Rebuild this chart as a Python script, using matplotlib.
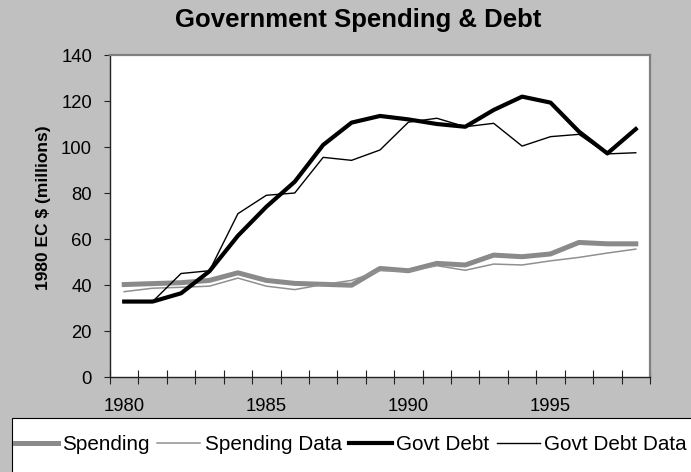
import matplotlib
matplotlib.use("Agg")
import matplotlib.pyplot as plt
from matplotlib.patches import Rectangle
from matplotlib.ticker import FixedLocator, NullFormatter
import numpy as np

plt.rcParams['font.family'] = ['Liberation Sans', 'DejaVu Sans']

years = list(range(1980, 1999))
spending = [40.2, 40.6, 41.0, 42.0, 45.3, 42.0, 40.7, 40.3, 39.9, 47.2, 46.2, 49.4,
            48.7, 53.0, 52.3, 53.5, 58.5, 57.9, 57.9]
spending_data = [37.1, 38.6, 39.0, 39.5, 43.0, 39.5, 38.0, 40.2, 42.0, 46.3, 46.0, 48.4,
                 46.4, 49.1, 48.7, 50.5, 52.0, 53.9, 55.6]
govt_debt = [32.8, 32.8, 36.4, 46.0, 61.4, 74.0, 84.9, 100.9, 110.6, 113.5, 112.0, 110.0,
             108.8, 116.1, 121.9, 119.3, 106.7, 97.2, 107.8]
govt_debt_data = [32.8, 32.8, 45.0, 46.2, 71.0, 79.0, 80.0, 95.5, 94.2, 98.7, 110.8, 112.5,
                  108.8, 110.3, 100.4, 104.5, 105.5, 97.0, 97.5]
label_years = [1980, 1985, 1990, 1995]
y_ticks = [0, 20, 40, 60, 80, 100, 120, 140]

W, H = 691, 472
fig = plt.figure(figsize=(W / 100, H / 100), dpi=100, facecolor='#c0c0c0')
ax = fig.add_axes([110 / W, 1 - 377 / H, 540 / W, 322 / H])
ax.set_facecolor('white')

x = np.arange(len(years))
l1, = ax.plot(x, spending, color='#8a8a8a', lw=3.6, solid_joinstyle='round', label='Spending')
l2, = ax.plot(x, spending_data, color='#909090', lw=1.1, label='Spending Data')
l3, = ax.plot(x, govt_debt, color='black', lw=3.0, solid_joinstyle='round', label='Govt Debt')
l4, = ax.plot(x, govt_debt_data, color='black', lw=1.0, label='Govt Debt Data')

ax.set_xlim(-0.5, len(years) - 0.5)
ax.set_ylim(0, 140)
ax.set_yticks(y_ticks)
ax.set_xticks([years.index(y) for y in label_years])
ax.set_xticklabels([str(y) for y in label_years])
ax.xaxis.set_minor_locator(FixedLocator(np.arange(-0.5, len(years), 1.0)))
ax.xaxis.set_minor_formatter(NullFormatter())
ax.tick_params(axis='x', which='major', length=0, pad=15, labelsize=13.3)
ax.tick_params(axis='x', which='minor', direction='inout', length=9.5, width=0.8, color='#222222')
ax.tick_params(axis='y', direction='out', length=4.3, width=0.8, pad=8.6, labelsize=13.3,
               color='#222222')

for s in ['left', 'bottom']:
    ax.spines[s].set_color('#222222')
    ax.spines[s].set_linewidth(1.0)
for s in ['top', 'right']:
    ax.spines[s].set_color('#808080')
    ax.spines[s].set_linewidth(1.6)

ax.set_ylabel('1980 EC $ (millions)', fontsize=12.5, fontweight='bold', va='center')
ax.yaxis.set_label_coords(-0.124, 0.526)

fig.text(358 / W, 1 - 7.5 / H, 'Government Spending & Debt', ha='center', va='top',
         fontsize=18.5, fontweight='bold')

# legend box
fig.add_artist(Rectangle((12 / W, -0.1), 1.2, (1 - 418 / H) + 0.1, transform=fig.transFigure,
                         facecolor='white', edgecolor='black', lw=0.8, zorder=0))
fig.legend(handles=[l1, l2, l3, l4], loc='center left', bbox_to_anchor=(15 / W, 1 - 444.5 / H),
           ncol=4, frameon=False, fontsize=14.85, handlelength=2.1, handletextpad=0.2,
           columnspacing=0.35, borderpad=0, borderaxespad=0)

fig.savefig('out.png', dpi=100, facecolor=fig.get_facecolor())
